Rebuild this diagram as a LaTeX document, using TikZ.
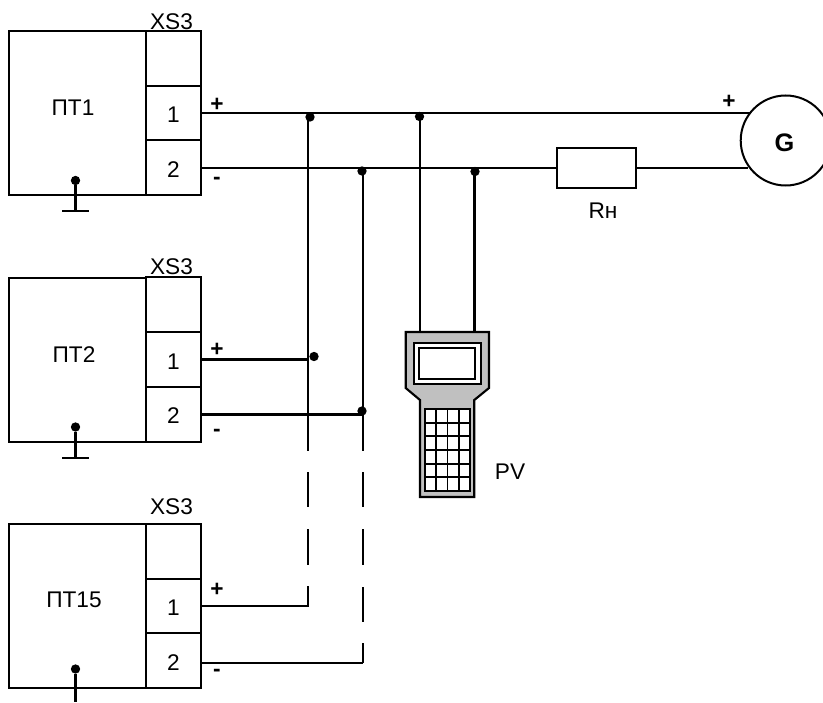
\documentclass[tikz,border=0pt]{standalone}
\usepackage{fontspec}
\setmainfont{Liberation Sans}
\definecolor{devgrey}{HTML}{C0C0C0}
\tikzset{
  thin wire/.style={line width=1.6pt},
  frame/.style={draw, line width=1.5pt, inner sep=0pt, outer sep=0pt, line join=miter},
  bodybox/.style={frame, minimum width=102.4pt, minimum height=123pt},
  cell/.style={frame, minimum width=41.25pt, minimum height=41pt},
  txt/.style={inner sep=0pt, font=\fontsize{17}{20}\selectfont},
  sign/.style={inner sep=0pt, font=\fontsize{17}{20}\selectfont\bfseries},
  dot/.style={circle, fill=black, draw=none, minimum size=7pt, inner sep=0pt, outer sep=0pt},
  gbar/.style={line width=1.6pt},
  dev/.style={draw, line width=1.6pt, line join=miter},
}
\begin{document}
\begin{tikzpicture}[x=0.75pt, y=-0.75pt]
\useasboundingbox[fill=white] (0,0) rectangle (823,702);

% unit 1
\node[bodybox] (b1) at (77.75,113) {};
\node[cell] (h1) at (173.5,58.2) {};
\node[cell] (a1) at (173.5,113) {};
\node[cell] (c1) at (173.5,167.8) {};
\node[txt] (n1) at (73,108) {ПТ1};
\node[txt] (x1) at (171.5,21.5) {XS3};
\node[txt] (pa1) at (173.5,115) {1};
\node[txt] (pc1) at (173.5,169.5) {2};
\node[sign] (ps1) at (217,105) {+};
\node[sign] (ms1) at (217,181) {-};
\node[dot] (g1) at (75.5,180.5) {};
\coordinate (gb1) at (75.5,211);
\coordinate (gl1) at (62,211);
\coordinate (gr1) at (89,211);
\draw[gbar] (g1) -- (gb1);
\draw[gbar] (gl1) -- (gr1);

% unit 2
\node[bodybox] (b2) at (77.75,359.5) {};
\node[cell] (h2) at (173.5,304.7) {};
\node[cell] (a2) at (173.5,359.5) {};
\node[cell] (c2) at (173.5,414.3) {};
\node[txt] (n2) at (74,355) {ПТ2};
\node[txt] (x2) at (171.5,267) {XS3};
\node[txt] (pa2) at (173.5,361.5) {1};
\node[txt] (pc2) at (173.5,416) {2};
\node[sign] (ps2) at (217,350) {+};
\node[sign] (ms2) at (217,433) {-};
\node[dot] (g2) at (75.5,427) {};
\coordinate (gb2) at (75.5,458);
\coordinate (gl2) at (62,458);
\coordinate (gr2) at (89,458);
\draw[gbar] (g2) -- (gb2);
\draw[gbar] (gl2) -- (gr2);

% unit 3
\node[bodybox] (b3) at (77.75,606) {};
\node[cell] (h3) at (173.5,551.2) {};
\node[cell] (a3) at (173.5,606) {};
\node[cell] (c3) at (173.5,660.8) {};
\node[txt] (n3) at (74,600) {ПТ15};
\node[txt] (x3) at (171.5,506.5) {XS3};
\node[txt] (pa3) at (173.5,608) {1};
\node[txt] (pc3) at (173.5,662.5) {2};
\node[sign] (ps3) at (217,590) {+};
\node[sign] (ms3) at (217,673) {-};
\node[dot] (g3) at (75.5,669) {};
\coordinate (ge3) at (75.5,702);
\draw[gbar] (g3) -- (ge3);

% generator and load
\node[circle, draw, line width=1.5pt, minimum size=67.5pt, inner sep=0pt, outer sep=0pt] (G) at (785.7,140.5) {};
\node[inner sep=0pt, font=\fontsize{19}{21}\selectfont\bfseries] (Gl) at (784.5,143) {G};
\node[frame, minimum width=59.6pt, minimum height=30pt] (R) at (596.7,168) {};
\node[txt] (Rl) at (603,210.5) {Rн};
\node[sign] (psG) at (729,102) {+};
\coordinate (Gt) at (750,113);
\coordinate (Gb) at (747.5,168);

% wire terminals on the cell edges
\coordinate (t1a) at (a1.east);
\coordinate (t1c) at (201,168);
\coordinate (t2a) at (a2.east);
\coordinate (t2c) at (201,414.5);
\coordinate (t3a) at (a3.east);
\coordinate (t3c) at (201,663);

% junctions
\node[dot] (j1) at (310,117) {};
\node[dot] (j2) at (419.5,116.5) {};
\node[dot] (j3) at (362,171) {};
\node[dot] (j4) at (475,171.5) {};
\node[dot] (j5) at (314,356.5) {};
\node[dot] (j6) at (362,411) {};

% bus wires
\draw[thin wire] (t1a) -- (Gt);
\draw[thin wire] (t1c) -- (557,168);
\draw[thin wire] (636.5,168) -- (Gb);
\draw[thin wire] (t2a) -- (308,359.5);
\draw[thin wire] (t2c) -- (363,414.5);
\draw[thin wire] (t3a) -- (309,606);
\draw[thin wire] (t3c) -- (363,663);

% risers
\coordinate (v1t) at (308,113);
\coordinate (v1e) at (308,451);
\coordinate (v2t) at (363,168);
\coordinate (v2e) at (363,451);
\draw[thin wire] (v1t) -- (v1e);
\draw[thin wire] (v2t) -- (v2e);
\draw[thin wire] (308,472) -- (308,507);
\draw[thin wire] (308,529) -- (308,565);
\draw[thin wire] (308,586) -- (308,606);
\draw[thin wire] (363,472) -- (363,507);
\draw[thin wire] (363,529) -- (363,565);
\draw[thin wire] (363,587) -- (363,622);
\draw[thin wire] (363,643) -- (363,663);

% device
\draw[dev, fill=devgrey] (405.7,332) -- (489,332) -- (489,388) -- (474.3,400) -- (474.3,497) -- (420,497) -- (420,400) -- (405.7,388) -- cycle;
\node[frame, fill=white, minimum width=50pt, minimum height=31pt] (scrO) at (447.4,363.4) {};
\node[frame, fill=white, minimum width=41.8pt, minimum height=23.2pt] (scrI) at (447.2,363.8) {};
\node[frame, fill=white, minimum width=33.75pt, minimum height=61.5pt] (keys) at (447.5,450) {};
\foreach \kx in {436.25,447.5,458.75} \draw[line width=1.3pt] (\kx,409) -- (\kx,491);
\foreach \ky in {422.7,436.3,450,463.7,477.3} \draw[line width=1.3pt] (425,\ky) -- (470,\ky);
\coordinate (d1) at (420,332);
\coordinate (d2) at (474.5,332);
\draw[thin wire] (420,116.5) -- (d1);
\draw[thin wire] (474.5,171.5) -- (d2);
\node[txt] (pv) at (510,471.5) {PV};
\end{tikzpicture}
\end{document}
